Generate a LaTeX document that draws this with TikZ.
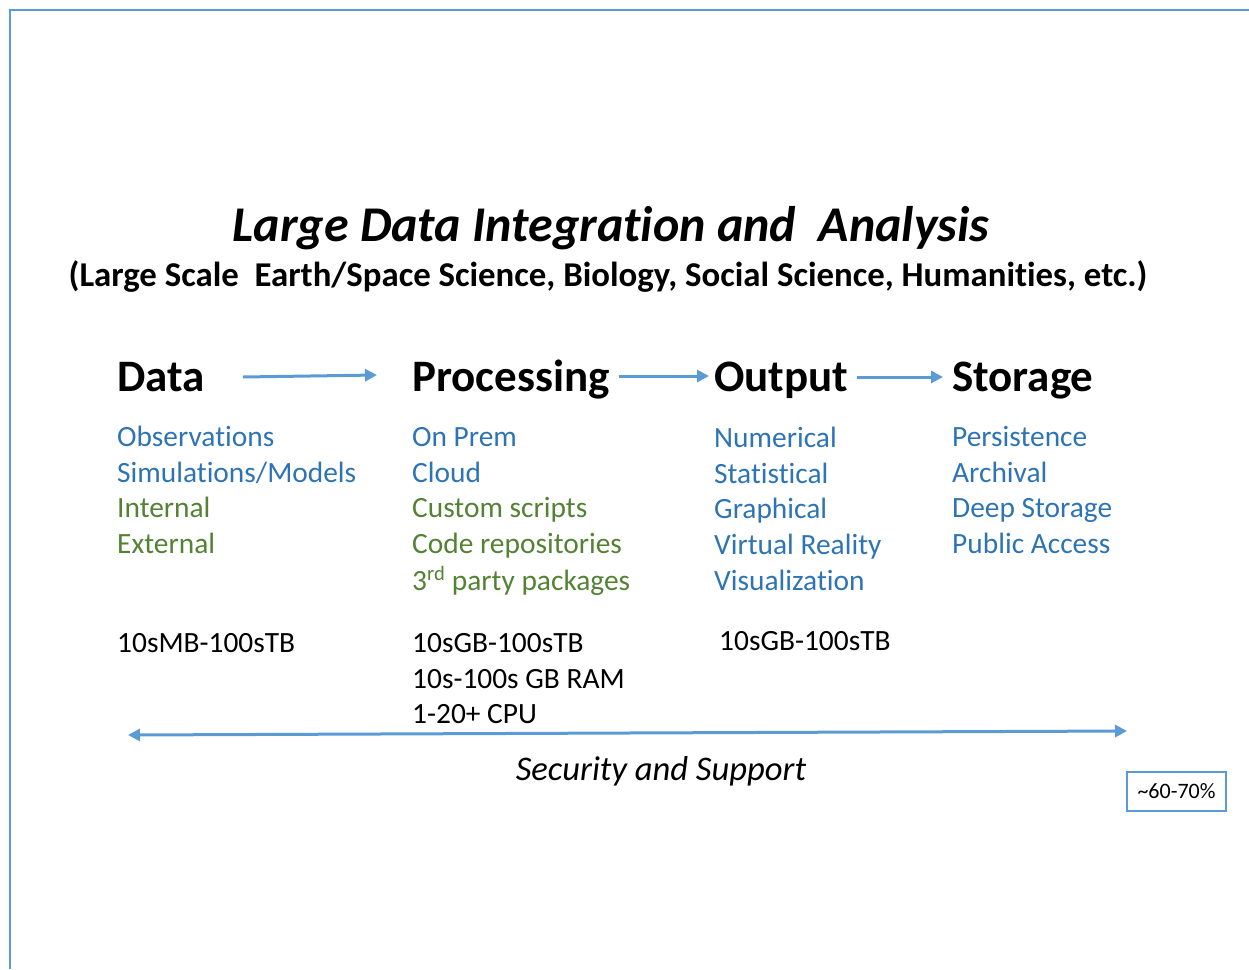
\documentclass[tikz,border=0pt]{standalone}
\usepackage{fontspec}
\setmainfont{Carlito}[Ligatures=NoCommon]
\usetikzlibrary{arrows.meta}

\definecolor{itemblue}{HTML}{2E74B5}
\definecolor{itemgreen}{HTML}{548235}
\definecolor{lineblue}{HTML}{5B9BD5}

\tikzset{
	txt/.style={inner sep=0pt, anchor=base west},
	head/.style={txt, font=\fontsize{45}{52}\selectfont\bfseries},
	item/.style={txt, font=\fontsize{29.4}{35}\selectfont},
	flow/.style={lineblue, line width=3pt, -{Triangle[length=12pt,width=12pt]}},
	frame/.style={lineblue, line width=2.6pt}
}

\begin{document}
\begin{tikzpicture}[x=1pt,y=-1pt]
	\useasboundingbox (0,0) rectangle (1249,969);
	
	%frame
	\node[txt, font=\fontsize{18}{20}\selectfont\bfseries] (fig) at (36,-4) {g};
	\draw[frame] (10,969) -- (10,10) -- (1249,10);
	
	%title
	\node[inner sep=0pt, anchor=base, font=\fontsize{50}{60}\selectfont\bfseries\itshape] (title) at (611,241) {Large Data Integration and\ \ Analysis};
	\node[inner sep=0pt, anchor=base, font=\fontsize{34.8}{40}\selectfont\bfseries] (subtitle) at (608,286) {(Large Scale\ \ Earth/Space Science, Biology, Social Science, Humanities, etc.)};
	
	%headers
	\node[head] (dataH)    at (117,391) {Data};
	\node[head] (procH)    at (412,391) {Processing};
	\node[head] (outH)     at (714,391) {Output};
	\node[head] (storH)    at (952,391) {Storage};
	
	%data column
	\node[item, itemblue]  (obs)  at (117,446) {Observations};
	\node[item, itemblue]  (sim)  at (117,482) {Simulations/Models};
	\node[item, itemgreen] (int)  at (117,517) {Internal};
	\node[item, itemgreen] (ext)  at (117,553) {External};
	\node[item]            (dsz)  at (117,652) {10sMB-100sTB};
	
	%processing column
	\node[item, itemblue]  (prem) at (412,446) {On Prem};
	\node[item, itemblue]  (cld)  at (412,482) {Cloud};
	\node[item, itemgreen] (cust) at (412,517) {Custom scripts};
	\node[item, itemgreen] (repo) at (412,553) {Code repositories};
	\node[item, itemgreen] (pkg)  at (412,590) {3\textsuperscript{rd} party packages};
	\node[item]            (psz)  at (412,652) {10sGB-100sTB};
	\node[item]            (ram)  at (412,688) {10s-100s GB RAM};
	\node[item]            (cpu)  at (412,723) {1-20+ CPU};
	
	%output column
	\node[item, itemblue]  (num)  at (714,447) {Numerical};
	\node[item, itemblue]  (stat) at (714,483) {Statistical};
	\node[item, itemblue]  (gra)  at (714,518) {Graphical};
	\node[item, itemblue]  (vr)   at (714,554) {Virtual Reality};
	\node[item, itemblue]  (vis)  at (714,590) {Visualization};
	\node[item]            (osz)  at (719,650) {10sGB-100sTB};
	
	%storage column
	\node[item, itemblue]  (pers) at (952,446) {Persistence};
	\node[item, itemblue]  (arch) at (952,482) {Archival};
	\node[item, itemblue]  (deep) at (952,517) {Deep Storage};
	\node[item, itemblue]  (pub)  at (952,553) {Public Access};
	
	%arrows between headers
	\draw[flow] ([xshift=38pt,yshift=14pt]dataH.base east) -- ([xshift=-35pt,yshift=16pt]procH.base west);
	\draw[flow] ([xshift=9pt,yshift=15pt]procH.base east)  -- ([xshift=-5pt,yshift=15pt]outH.base west);
	\draw[flow] ([xshift=9pt,yshift=14pt]outH.base east)   -- ([xshift=-9pt,yshift=14pt]storH.base west);
	
	%security and support
	\coordinate (secL) at (128,735);
	\coordinate (secR) at (1127,731);
	\draw[lineblue, line width=3pt, {Triangle[length=12pt,width=12pt]}-{Triangle[length=12pt,width=12pt]}] (secL) -- (secR);
	\node[inner sep=0pt, anchor=base, font=\fontsize{34.6}{40}\selectfont\itshape] (sec) at (661,780) {Security and Support};
	
	%share box
	\node[draw=lineblue, line width=1.5pt, minimum width=99pt, minimum height=39pt, inner sep=0pt, font=\fontsize{22}{26}\selectfont] (share) at (1176.5,791.5) {\textasciitilde60-70\%};
	
\end{tikzpicture}
\end{document}
